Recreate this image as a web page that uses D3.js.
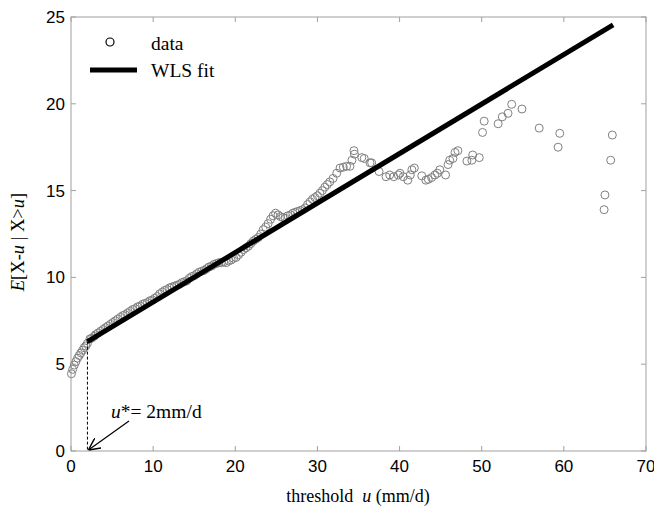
<!DOCTYPE html>
<html>
<head>
<meta charset="utf-8">
<script src="https://cdn.jsdelivr.net/npm/d3@7"></script>
<style>
  html, body { margin: 0; padding: 0; background: #fff; }
  svg text { font-family: "Liberation Serif", "Times New Roman", serif; }
  .tick-label { font-family: "Liberation Sans", Arial, sans-serif; font-size: 17px; fill: #000; }
</style>
</head>
<body>
<div id="chart"></div>
<script>
// mean excess (threshold, E[X-u | X>u])
const uVals = [
  0.05,0.2,0.4,0.6,0.8,1.0,1.2,1.4,1.6,1.8,2.0,2.3,2.5,2.8,3.0,3.3,3.6,3.9,4.2,4.5,
  4.8,5.1,5.4,5.7,6.0,6.3,6.6,6.9,7.2,7.5,7.8,8.1,8.4,8.7,9.0,9.3,9.6,9.9,10.2,10.5,
  10.8,11.1,11.4,11.7,12.0,12.3,12.6,12.9,13.2,13.5,13.8,14.1,14.4,14.7,15.0,15.3,15.6,15.9,16.2,16.5,
  16.8,17.1,17.4,17.7,18.0,18.3,18.6,18.9,19.2,19.5,19.8,20.1,20.4,20.7,21.0,21.3,21.6,21.9,22.2,22.5,
  22.8,23.1,23.4,23.7,24.0,24.3,24.6,24.9,25.2,25.5,25.8,26.1,26.4,26.7,27.0,27.3,27.6,27.9,28.2,28.5,
  28.8,29.1,29.4,29.7,30.0,30.3,30.6,30.9,31.2,31.5,31.9,32.35,32.75,33.15,33.55,33.96,34.2,34.45,34.5,35.4,
  35.7,36.4,36.6,37.5,38.35,38.8,39.3,39.85,40.05,40.45,41.0,41.3,41.5,41.8,42.7,43.2,43.5,43.9,44.3,44.6,
  44.9,45.6,45.9,46.1,46.5,46.75,47.1,48.2,48.8,48.9,49.7,50.1,50.3,52.0,52.5,53.2,53.65,54.9,57.0,59.3,
  59.5,64.9,65.0,65.7,65.9
];
const eVals = [
  4.45,4.7,4.95,5.15,5.35,5.5,5.65,5.8,5.95,6.05,6.2,6.45,6.5,6.6,6.7,6.8,6.9,7.0,7.1,7.2,
  7.3,7.4,7.5,7.6,7.7,7.8,7.85,7.95,8.05,8.15,8.2,8.3,8.35,8.45,8.5,8.55,8.65,8.7,8.8,8.9,
  9.05,9.15,9.25,9.3,9.4,9.45,9.5,9.55,9.6,9.7,9.75,9.8,9.95,10.05,10.1,10.2,10.3,10.35,10.4,10.5,
  10.6,10.65,10.75,10.8,10.85,10.85,10.9,10.85,10.95,11.0,11.1,11.15,11.3,11.45,11.6,11.7,11.8,11.95,12.1,12.2,
  12.3,12.5,12.75,12.9,13.1,13.35,13.55,13.7,13.6,13.5,13.45,13.4,13.55,13.6,13.7,13.75,13.8,13.85,13.9,14.0,
  14.2,14.35,14.5,14.6,14.7,14.85,15.0,15.2,15.35,15.5,15.7,16.0,16.3,16.35,16.4,16.4,16.75,17.3,17.1,16.9,
  16.85,16.6,16.6,16.1,15.8,15.9,15.8,15.9,16.0,15.8,15.6,15.9,16.2,16.3,15.85,15.6,15.65,15.75,15.9,16.0,
  16.2,15.9,16.5,16.75,16.85,17.2,17.3,16.7,16.75,17.05,16.9,18.35,19.0,18.85,19.25,19.45,19.97,19.7,18.6,17.5,
  18.3,13.9,14.75,16.75,18.2
];
// WLS fit endpoints
const fitU = [2, 66];
const fitE = [6.3, 24.55];

const xTicks = [0, 10, 20, 30, 40, 50, 60, 70];
const yTicks = [0, 5, 10, 15, 20, 25];
const uStar = 2;

const W = 654, H = 513;
const M = { left: 71, right: 8, top: 17, bottom: 62 };

const svg = d3.select("#chart").append("svg").attr("width", W).attr("height", H);

const x = d3.scaleLinear().domain([0, 70]).range([M.left, W - M.right]);
const y = d3.scaleLinear().domain([0, 25]).range([H - M.bottom, M.top]);

const frame = "#a0a0a0";

// frame
svg.append("rect")
  .attr("x", x(0)).attr("y", y(25))
  .attr("width", x(70) - x(0)).attr("height", y(0) - y(25))
  .attr("fill", "none").attr("stroke", frame).attr("stroke-width", 1);

// ticks inside, on all four sides
const tl = 5;
xTicks.forEach(t => {
  svg.append("line").attr("x1", x(t)).attr("x2", x(t)).attr("y1", y(0)).attr("y2", y(0) - tl).attr("stroke", frame);
  svg.append("line").attr("x1", x(t)).attr("x2", x(t)).attr("y1", y(25)).attr("y2", y(25) + tl).attr("stroke", frame);
  svg.append("text").attr("class", "tick-label")
    .attr("x", x(t)).attr("y", y(0) + 21).attr("text-anchor", "middle").text(t);
});
yTicks.forEach(t => {
  svg.append("line").attr("x1", x(0)).attr("x2", x(0) + tl).attr("y1", y(t)).attr("y2", y(t)).attr("stroke", frame);
  svg.append("line").attr("x1", x(70)).attr("x2", x(70) - tl).attr("y1", y(t)).attr("y2", y(t)).attr("stroke", frame);
  svg.append("text").attr("class", "tick-label")
    .attr("x", x(0) - 6).attr("y", y(t) + 6).attr("text-anchor", "end").text(t);
});

// data circles
const pts = uVals.map((u, i) => ({ u, e: eVals[i] }));
svg.append("g").selectAll("circle").data(pts).join("circle")
  .attr("cx", d => x(d.u)).attr("cy", d => y(d.e)).attr("r", 4)
  .attr("fill", "none").attr("stroke", "#808080").attr("stroke-width", 1);

// WLS fit
svg.append("path")
  .datum(fitU.map((u, i) => ({ u, e: fitE[i] })))
  .attr("d", d3.line().x(d => x(d.u)).y(d => y(d.e)))
  .attr("fill", "none").attr("stroke", "#000").attr("stroke-width", 5);

// u* marker
svg.append("line")
  .attr("x1", x(uStar)).attr("x2", x(uStar)).attr("y1", y(fitE[0])).attr("y2", y(0))
  .attr("stroke", "#000").attr("stroke-width", 1).attr("stroke-dasharray", "3,2");

svg.append("defs").append("marker").attr("id", "arrow")
  .attr("viewBox", "0 0 10 10").attr("refX", 10).attr("refY", 5)
  .attr("markerWidth", 10).attr("markerHeight", 10).attr("orient", "auto")
  .append("path").attr("d", "M0,0 L10,5 L0,10").attr("fill", "none").attr("stroke", "#000").attr("stroke-width", 1.2);

svg.append("line")
  .attr("x1", 129).attr("x2", x(uStar) + 1).attr("y1", 421).attr("y2", y(0) - 1)
  .attr("stroke", "#000").attr("stroke-width", 1.2).attr("marker-end", "url(#arrow)");

const ann = svg.append("text").attr("x", 111).attr("y", 418).attr("font-size", "19.5px");
ann.append("tspan").attr("font-style", "italic").text("u");
ann.append("tspan").text("*= 2mm/d");

// legend
svg.append("circle").attr("cx", 110).attr("cy", 42).attr("r", 4)
  .attr("fill", "none").attr("stroke", "#000").attr("stroke-width", 1.2);
svg.append("text").attr("x", 151).attr("y", 50).attr("font-size", "19.5px").text("data");
svg.append("line").attr("x1", 90).attr("x2", 137).attr("y1", 70).attr("y2", 70)
  .attr("stroke", "#000").attr("stroke-width", 5);
svg.append("text").attr("x", 151).attr("y", 77).attr("font-size", "19.5px").text("WLS fit");

// axis labels
const xl = svg.append("text").attr("x", 358).attr("y", 502)
  .attr("text-anchor", "middle").attr("font-size", "18px");
xl.append("tspan").text("threshold\u00a0\u00a0");
xl.append("tspan").attr("font-style", "italic").text("u");
xl.append("tspan").text("\u00a0(mm/d)");

const yl = svg.append("text")
  .attr("transform", `translate(24,242) rotate(-90)`)
  .attr("text-anchor", "middle").attr("font-size", "18.5px");
yl.append("tspan").attr("font-style", "italic").text("E");
yl.append("tspan").text("[X-");
yl.append("tspan").attr("font-style", "italic").text("u");
yl.append("tspan").text("\u00a0|\u00a0X>");
yl.append("tspan").attr("font-style", "italic").text("u");
yl.append("tspan").text("]");
</script>
</body>
</html>
